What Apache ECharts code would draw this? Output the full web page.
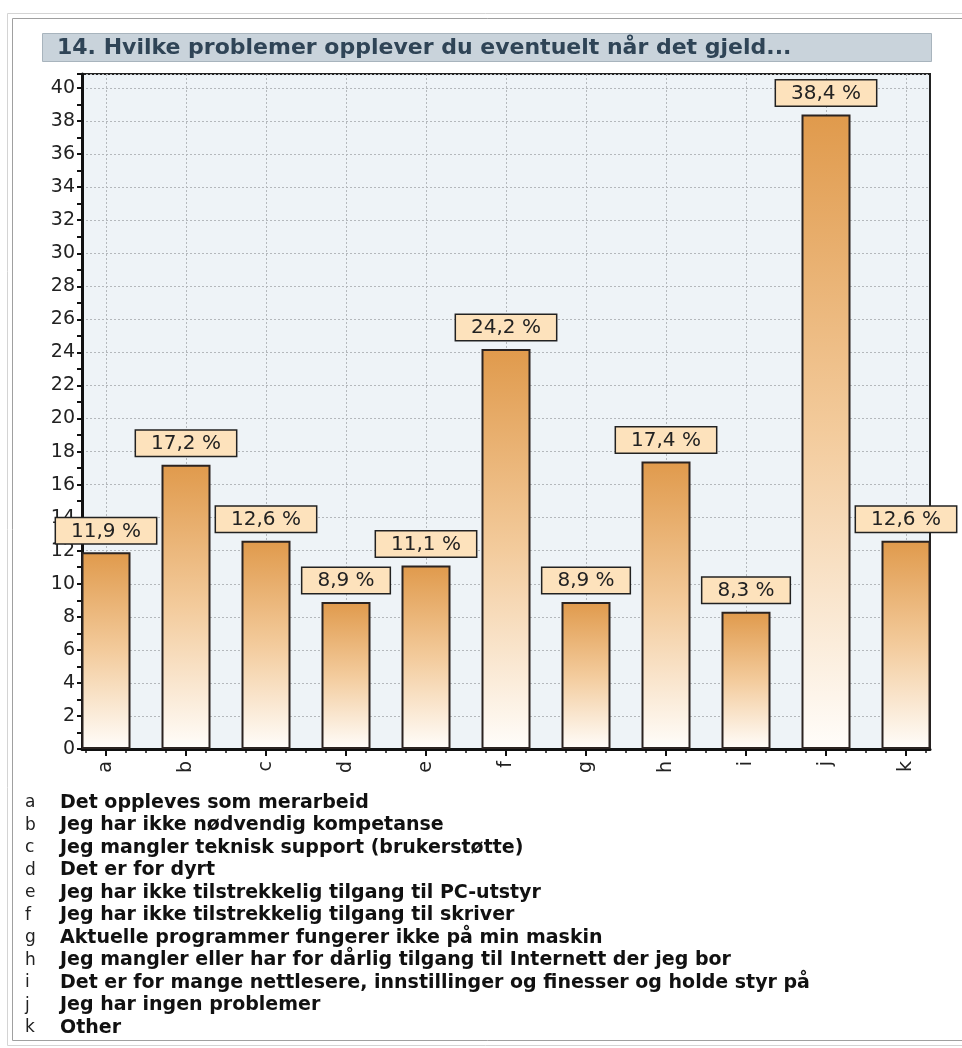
<!DOCTYPE html>
<html>
<head>
<meta charset="utf-8">
<script src="https://cdn.jsdelivr.net/npm/echarts@6/dist/echarts.min.js"></script>
<style>
  html, body { margin: 0; padding: 0; background: #fff; }
  #mainChart { width: 962px; height: 1048px; }
</style>
</head>
<body>
<div id="mainChart"></div>
<script>
// data
var titleText = '14. Hvilke problemer opplever du eventuelt når det gjeld...';
var categories = ['a', 'b', 'c', 'd', 'e', 'f', 'g', 'h', 'i', 'j', 'k'];
var values = [11.9, 17.2, 12.6, 8.9, 11.1, 24.2, 8.9, 17.4, 8.3, 38.4, 12.6];
var answers = [
	'Det oppleves som merarbeid',
	'Jeg har ikke nødvendig kompetanse',
	'Jeg mangler teknisk support (brukerstøtte)',
	'Det er for dyrt',
	'Jeg har ikke tilstrekkelig tilgang til PC-utstyr',
	'Jeg har ikke tilstrekkelig tilgang til skriver',
	'Aktuelle programmer fungerer ikke på min maskin',
	'Jeg mangler eller har for dårlig tilgang til Internett der jeg bor',
	'Det er for mange nettlesere, innstillinger og finesser og holde styr på',
	'Jeg har ingen problemer',
	'Other'
];

$ready();

function $ready() {
	var myChart = echarts.init(document.getElementById('mainChart'));
	var font = 'DejaVu Sans';

	var majorTicks = [];
	var minorTicks = [];
	for (var i = 0; i < categories.length; i++) {
		majorTicks.push(i);
	}
	for (var q = -1; q <= categories.length * 4 - 3; q++) {
		if (q % 4 !== 0) minorTicks.push(q / 4);
	}

	var barData = [];
	for (var k = 0; k < values.length; k++) {
		barData.push([k, values[k]]);
	}

	// title bar + outer frame + legend of answers
	var graphics = [
		{ type: 'rect', shape: { x: 7.5, y: 13.5, width: 980, height: 1032 }, style: { fill: 'none', stroke: '#d4d4d4', lineWidth: 1 }, silent: true },
		{ type: 'rect', shape: { x: 12.5, y: 18.5, width: 980, height: 1022 }, style: { fill: 'none', stroke: '#a0a0a0', lineWidth: 1 }, silent: true },
		{ type: 'rect', shape: { x: 42.5, y: 33.5, width: 889, height: 28 }, style: { fill: '#c9d3db', stroke: '#a8b4bd', lineWidth: 1 }, silent: true },
		{ type: 'text', x: 57, y: 48, style: { text: titleText, font: 'bold 22px ' + font, fill: '#2f4456', verticalAlign: 'middle' }, silent: true }
	];
	for (var n = 0; n < categories.length; n++) {
		graphics.push({ type: 'text', x: 25, y: 803 + n * 22.5, style: { text: categories[n], font: '17px ' + font, fill: '#222', verticalAlign: 'middle' }, silent: true });
		graphics.push({ type: 'text', x: 60, y: 803 + n * 22.5, style: { text: answers[n], font: 'bold 19px ' + font, fill: '#111', verticalAlign: 'middle' }, silent: true });
	}

	var option = {
		backgroundColor: '#ffffff',
		animation: false,
		graphic: graphics,
		grid: {
			left: 82,
			right: 32,
			top: 74,
			bottom: 299,
			show: true,
			backgroundColor: '#eef3f7',
			borderColor: '#222',
			borderWidth: 2
		},
		xAxis: [{
			type: 'value',
			min: -0.3,
			max: 10.3,
			axisLine: { show: true, onZero: false, lineStyle: { color: '#111', width: 3 } },
			axisTick: { show: true, length: 7, customValues: majorTicks, lineStyle: { color: '#111', width: 2 } },
			axisLabel: {
				customValues: majorTicks,
				rotate: 90,
				margin: 12,
				fontSize: 19,
				fontFamily: font,
				color: '#222',
				formatter: function (v) { return categories[Math.round(v)] || ''; }
			},
			splitLine: { show: true, lineStyle: { color: '#b4b8bc', type: [2, 2], width: 1 } }
		}, {
			type: 'value',
			min: -0.3,
			max: 10.3,
			position: 'bottom',
			axisLine: { show: false, onZero: false },
			axisTick: { show: true, length: 4, customValues: minorTicks, lineStyle: { color: '#111', width: 1.5 } },
			axisLabel: { show: false },
			splitLine: { show: false }
		}],
		yAxis: {
			type: 'value',
			min: 0,
			max: 40.85,
			interval: 2,
			axisLine: { show: true, onZero: false, lineStyle: { color: '#111', width: 3 } },
			axisTick: { show: true, length: 5, lineStyle: { color: '#111', width: 2 } },
			minorTick: { show: true, splitNumber: 2, length: 5, lineStyle: { color: '#111', width: 2 } },
			axisLabel: { margin: 7, fontSize: 19, fontFamily: font, color: '#222', showMaxLabel: false },
			splitLine: { show: true, lineStyle: { color: '#b4b8bc', type: [2, 2], width: 1 } }
		},
		series: [{
			type: 'bar',
			xAxisIndex: 0,
			data: barData,
			barWidth: 49,
			itemStyle: {
				borderColor: '#2b2320',
				borderWidth: 2,
				color: new echarts.graphic.LinearGradient(0, 0, 0, 1, [
					{ offset: 0, color: '#e09a4c' },
					{ offset: 0.5, color: '#f3cb9c' },
					{ offset: 1, color: '#fffdfa' }
				])
			},
			label: {
				show: true,
				position: 'top',
				distance: 9,
				backgroundColor: '#fde2bc',
				borderColor: '#222',
				borderWidth: 1.5,
				padding: [3, 15, 2, 15],
				fontSize: 20,
				fontFamily: font,
				color: '#222',
				formatter: function (p) { return p.value[1].toFixed(1).replace('.', ',') + ' %'; }
			}
		}]
	};
	myChart.setOption(option, true);
}
</script>
</body>
</html>
